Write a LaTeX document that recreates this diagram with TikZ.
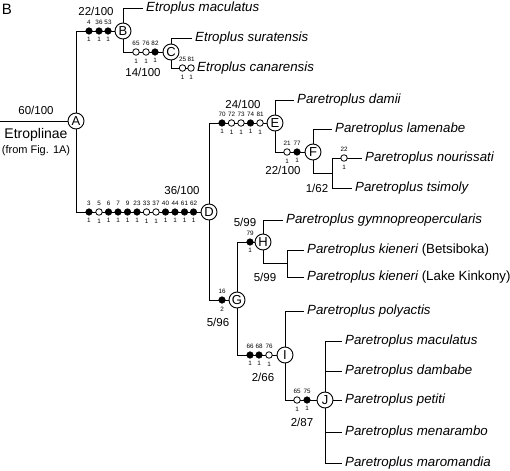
\documentclass[tikz,border=0pt]{standalone}
\usepackage{fontspec}
\setmainfont{Liberation Sans}
\begin{document}
\begin{tikzpicture}[x=1pt,y=-1pt,
  br/.style={line width=0.9pt},
  cnode/.style={circle,draw,line width=0.9pt,fill=white,minimum size=16pt,inner sep=0pt,font=\fontsize{13}{13}\selectfont},
  fd/.style={circle,draw,fill=black,minimum size=6.5pt,inner sep=0pt,line width=0.6pt},
  od/.style={circle,draw,fill=white,minimum size=6.5pt,inner sep=0pt,line width=0.8pt},
  ch/.style={font=\fontsize{6.3}{6.3}\selectfont,inner sep=0.3pt},
  mk/.style 2 args={label={[ch,label distance=2.6pt]above:#1},label={[ch,label distance=2.6pt]below:#2}},
  supp/.style={font=\fontsize{11.5}{12}\selectfont,inner sep=0pt},
  sp/.style={anchor=west,inner xsep=3pt,inner ysep=0pt,font=\fontsize{13.3}{14}\selectfont\itshape},
]
\useasboundingbox (0,0) rectangle (510,470);
% panel letter
\node[font=\fontsize{15}{15}\selectfont,inner sep=0pt] (panel) at (7,9.5) {B};
% internal nodes
\node[cnode] (A) at (76,121) {A};
\node[cnode] (B) at (123,31) {B};
\node[cnode] (C) at (171,52) {C};
\node[cnode] (D) at (209,212) {D};
\node[cnode] (E) at (275,123) {E};
\node[cnode] (F) at (313,152) {F};
\node[cnode] (G) at (237,300) {G};
\node[cnode] (H) at (263,242) {H};
\node[cnode] (I) at (285,355) {I};
\node[cnode] (J) at (325,400) {J};
% species
\node[sp] (emac) at (143,8) {Etroplus maculatus};
\node[sp] (esur) at (192,38) {Etroplus suratensis};
\node[sp] (ecan) at (194,68) {Etroplus canarensis};
\node[sp] (pdam) at (294,100) {Paretroplus damii};
\node[sp] (plam) at (332,129) {Paretroplus lamenabe};
\node[sp] (pnou) at (362,158) {Paretroplus nourissati};
\node[sp] (ptsi) at (352,188) {Paretroplus tsimoly};
\node[sp] (pgym) at (283,220) {Paretroplus gymnopreopercularis};
\node[sp] (pkb) at (304,250) {Paretroplus kieneri \upshape(Betsiboka)};
\node[sp] (pkl) at (304,277) {Paretroplus kieneri \upshape(Lake Kinkony)};
\node[sp] (ppol) at (304,311) {Paretroplus polyactis};
\node[sp] (pmac) at (342,341) {Paretroplus maculatus};
\node[sp] (pdmb) at (342,371) {Paretroplus dambabe};
\node[sp] (ppet) at (342,400) {Paretroplus petiti};
\node[sp] (pmen) at (342,432) {Paretroplus menarambo};
\node[sp] (pmar) at (342,463) {Paretroplus maromandia};
% junction coordinates
\coordinate (root) at (0,121);
\coordinate (fj) at (332,173);
\coordinate (fj1) at (332,158);
\coordinate (fj2) at (332,188);
\coordinate (hj) at (287,263);
\coordinate (hj1) at (287,250);
\coordinate (hj2) at (287,277);
% branches
\begin{scope}[br]
\draw (root) -- (A);
\draw (A) |- (B);
\draw (A) |- (D);
\draw (B) |- (emac);
\draw (B) |- (C);
\draw (C) |- (esur);
\draw (C) |- (ecan);
\draw (D) |- (E);
\draw (D) |- (G);
\draw (E) |- (pdam);
\draw (E) |- (F);
\draw (F) |- (plam);
\draw (F) |- (fj);
\draw (fj1) -- (fj2);
\draw (fj1) -- (pnou);
\draw (fj2) -- (ptsi);
\draw (G) |- (H);
\draw (G) |- (I);
\draw (H) |- (pgym);
\draw (H) |- (hj);
\draw (hj1) -- (hj2);
\draw (hj1) -- (pkb);
\draw (hj2) -- (pkl);
\draw (I) |- (ppol);
\draw (I) |- (J);
\draw (J) |- (pmac);
\draw (J) |- (pdmb);
\draw (J) -- (ppet);
\draw (J) |- (pmen);
\draw (J) |- (pmar);
\end{scope}
% character dots
\node[fd,mk={4}{1}] (b1) at (89,31) {};
\node[fd,mk={36}{1}] (b2) at (99,31) {};
\node[fd,mk={53}{1}] (b3) at (108,31) {};
\node[od,mk={65}{1}] (c1) at (136,52) {};
\node[od,mk={76}{1}] (c2) at (146,52) {};
\node[fd,mk={82}{1}] (c3) at (155,52) {};
\node[od,mk={25}{1}] (k1) at (182.5,68) {};
\node[od,mk={81}{1}] (k2) at (191,68) {};
\node[fd,mk={3}{1}] (d1) at (89,212) {};
\node[od,mk={5}{1}] (d2) at (99,212) {};
\node[fd,mk={6}{1}] (d3) at (108.5,212) {};
\node[fd,mk={7}{1}] (d4) at (118,212) {};
\node[fd,mk={9}{1}] (d5) at (127.5,212) {};
\node[fd,mk={23}{1}] (d6) at (137,212) {};
\node[od,mk={33}{1}] (d7) at (146.5,212) {};
\node[od,mk={37}{1}] (d8) at (156,212) {};
\node[fd,mk={40}{1}] (d9) at (165.5,212) {};
\node[fd,mk={44}{1}] (d10) at (175,212) {};
\node[fd,mk={61}{1}] (d11) at (184.5,212) {};
\node[fd,mk={62}{1}] (d12) at (193.5,212) {};
\node[fd,mk={70}{1}] (e1) at (222,123) {};
\node[od,mk={72}{1}] (e2) at (231.5,123) {};
\node[od,mk={73}{1}] (e3) at (241,123) {};
\node[fd,mk={74}{1}] (e4) at (250.5,123) {};
\node[od,mk={81}{1}] (e5) at (260,123) {};
\node[od,mk={21}{1}] (f1) at (287,152) {};
\node[fd,mk={77}{1}] (f2) at (297,152) {};
\node[od,mk={22}{1}] (n1) at (344,158) {};
\node[fd,mk={16}{2}] (g1) at (222,300) {};
\node[fd,mk={79}{1}] (h1) at (250,242) {};
\node[fd,mk={66}{1}] (i1) at (250,355) {};
\node[fd,mk={68}{1}] (i2) at (259,355) {};
\node[od,mk={76}{1}] (i3) at (269,355) {};
\node[od,mk={65}{1}] (j1) at (297,400) {};
\node[fd,mk={75}{1}] (j2) at (307,400) {};
% support values
\node[supp] (sA) at (36,110) {60/100};
\node[font=\fontsize{14}{14}\selectfont,inner sep=0pt] (etr) at (36,135) {Etroplinae};
\node[font=\fontsize{11}{11}\selectfont,inner sep=0pt] (fig) at (36,151) {(from Fig. 1A)};
\node[supp] (sB) at (96,11) {22/100};
\node[supp] (sC) at (143,72) {14/100};
\node[supp] (sD) at (182,190) {36/100};
\node[supp] (sE) at (243,104) {24/100};
\node[supp] (sF) at (283,170) {22/100};
\node[supp] (sF2) at (317,188) {1/62};
\node[supp] (sH) at (245,222) {5/99};
\node[supp] (sH2) at (265,277) {5/99};
\node[supp] (sG) at (218,322) {5/96};
\node[supp] (sI) at (263,377) {2/66};
\node[supp] (sJ) at (302,422) {2/87};
\end{tikzpicture}
\end{document}
